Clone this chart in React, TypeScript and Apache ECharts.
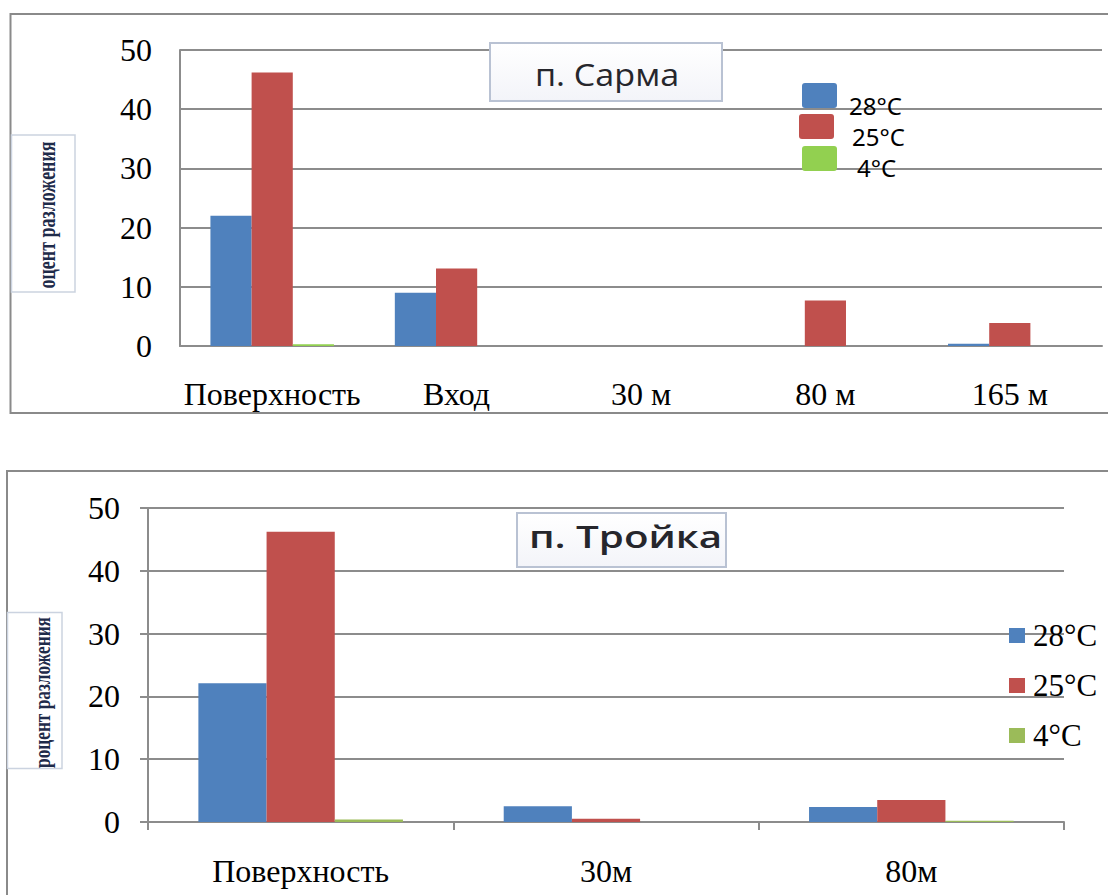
import React, { useEffect, useRef } from "react";
import * as echarts from "echarts";

// Cave "п. Сарма"
const sarmaCategories = ["Поверхность", "Вход", "30 м", "80 м", "165 м"];
const sarma28 = [22.0, 9.0, 0, 0, 0.4];
const sarma25 = [46.2, 13.1, 0, 7.7, 3.9];
const sarma4 = [0.3, 0, 0, 0, 0];

// Cave "п. Тройка"
const troikaCategories = ["Поверхность", "30м", "80м"];
const troika28 = [22.1, 2.5, 2.4];
const troika25 = [46.2, 0.5, 3.5];
const troika4 = [0.4, 0, 0.2];

const seriesNames = ["28°C", "25°C", "4°C"];
const yTicks = { min: 0, max: 50, interval: 10 };

const BLUE = "#4f81bd";
const RED = "#c0504d";
const GREEN_TOP = "#92d050";
const GREEN_BOTTOM = "#9bbb59";
const GRID_GRAY = "#8c8c8c";
const SERIF = '"Liberation Serif", "Times New Roman", serif';
const SANS = '"Noto Sans", "Open Sans", sans-serif';

// Swatch + text layout of the Sarma panel's key (staggered like the original slide)
const sarmaKeyColors = [BLUE, RED, GREEN_TOP];
const sarmaKeyBoxes = [
  { x: 802, y: 83, tx: 849, ty: 105 },
  { x: 799, y: 114, tx: 852, ty: 136 },
  { x: 802, y: 146, tx: 857, ty: 167 },
];

export default function App() {
  const ref = useRef<HTMLDivElement>(null);

  useEffect(() => {
    if (!ref.current) return;
    const chart = echarts.init(ref.current, null, { renderer: "svg" });

    const axisLabelStyle = { color: "#000", fontFamily: SERIF, fontSize: 32 };

    const bar = (name: string, data: number[], idx: number, color: string) => ({
      type: "bar",
      name,
      data,
      xAxisIndex: idx,
      yAxisIndex: idx,
      barGap: "0%",
      barCategoryGap: "33%",
      itemStyle: { color },
    });

    const sarmaKey = sarmaKeyBoxes.flatMap((b, i) => [
      {
        type: "rect",
        z: 60,
        shape: { x: b.x, y: b.y, width: 35, height: 25, r: 3 },
        style: { fill: sarmaKeyColors[i] },
      },
      {
        type: "text",
        z: 61,
        x: b.tx,
        y: b.ty,
        style: {
          text: seriesNames[i],
          font: `24px ${SANS}`,
          lineHeight: 24,
          fill: "#000",
          align: "left",
          verticalAlign: "middle",
        },
      },
    ]);

    const option = {
      animation: false,
      backgroundColor: "#fff",
      grid: [
        { left: 180, top: 50, width: 922, height: 296 },
        { left: 148, top: 508, width: 916, height: 314 },
      ],
      xAxis: [
        {
          type: "category",
          gridIndex: 0,
          data: sarmaCategories,
          axisLine: { show: true, lineStyle: { color: GRID_GRAY, width: 2 } },
          axisTick: { show: false },
          axisLabel: { ...axisLabelStyle, margin: 32, interval: 0 },
        },
        {
          type: "category",
          gridIndex: 1,
          data: troikaCategories,
          axisLine: { show: true, lineStyle: { color: GRID_GRAY, width: 2 } },
          axisTick: { show: true, length: 8, lineStyle: { color: GRID_GRAY, width: 2 } },
          axisLabel: { ...axisLabelStyle, margin: 33, interval: 0 },
        },
      ],
      yAxis: [
        {
          type: "value",
          gridIndex: 0,
          ...yTicks,
          axisLine: { show: true, lineStyle: { color: GRID_GRAY, width: 2 } },
          axisTick: { show: false },
          splitLine: { lineStyle: { color: GRID_GRAY, width: 2 } },
          axisLabel: { ...axisLabelStyle, margin: 28 },
        },
        {
          type: "value",
          gridIndex: 1,
          ...yTicks,
          axisLine: { show: true, lineStyle: { color: GRID_GRAY, width: 2 } },
          axisTick: { show: true, length: 8, lineStyle: { color: GRID_GRAY, width: 2 } },
          splitLine: { lineStyle: { color: GRID_GRAY, width: 2 } },
          axisLabel: { ...axisLabelStyle, margin: 28 },
        },
      ],
      legend: [
        {
          orient: "vertical",
          left: 1009,
          top: 620,
          padding: 0,
          itemWidth: 16,
          itemHeight: 15,
          itemGap: 19,
          icon: "rect",
          selectedMode: false,
          textStyle: {
            fontFamily: SERIF,
            fontSize: 31,
            lineHeight: 31,
            color: "#000",
            padding: [0, 0, 0, 3],
          },
          data: [
            { name: seriesNames[0], itemStyle: { color: BLUE } },
            { name: seriesNames[1], itemStyle: { color: RED } },
            { name: seriesNames[2], itemStyle: { color: GREEN_BOTTOM } },
          ],
        },
      ],
      graphic: [
        // outer frames of both panels
        {
          type: "rect",
          z: 0,
          silent: true,
          shape: { x: 10.5, y: 14, width: 1200, height: 399 },
          style: { fill: "none", stroke: "#8a8a8a", lineWidth: 2 },
        },
        {
          type: "rect",
          z: 0,
          silent: true,
          shape: { x: 7, y: 471, width: 1200, height: 500 },
          style: { fill: "none", stroke: "#8a8a8a", lineWidth: 2 },
        },
        // panel titles
        {
          type: "rect",
          z: 50,
          shape: { x: 490, y: 43, width: 232, height: 58 },
          style: {
            fill: new echarts.graphic.LinearGradient(0, 0, 0, 1, [
              { offset: 0, color: "#ffffff" },
              { offset: 1, color: "#f3f4f9" },
            ]),
            stroke: "#b9c2d3",
            lineWidth: 2,
          },
        },
        {
          type: "text",
          z: 51,
          x: 607,
          y: 74,
          scaleX: 1.1,
          style: {
            text: "п. Сарма",
            font: '500 31px "Open Sans", "Noto Sans", sans-serif',
            fill: "#26262c",
            align: "center",
            verticalAlign: "middle",
          },
        },
        {
          type: "rect",
          z: 50,
          shape: { x: 517, y: 513, width: 209, height: 54 },
          style: {
            fill: new echarts.graphic.LinearGradient(0, 0, 0, 1, [
              { offset: 0, color: "#ffffff" },
              { offset: 1, color: "#f3f4f9" },
            ]),
            stroke: "#b9c2d3",
            lineWidth: 2,
          },
        },
        {
          type: "text",
          z: 51,
          x: 625.5,
          y: 536,
          scaleX: 1.3,
          style: {
            text: "п. Тройка",
            font: '600 31px "Open Sans", "Noto Sans", sans-serif',
            fill: "#26262c",
            align: "center",
            verticalAlign: "middle",
          },
        },
        // y-axis titles
        {
          type: "rect",
          z: 50,
          shape: { x: 11.5, y: 135, width: 63.5, height: 157 },
          style: { fill: "#fff", stroke: "#cbd3e0", lineWidth: 1.5 },
        },
        {
          type: "text",
          z: 51,
          x: 47,
          y: 215,
          rotation: Math.PI / 2,
          scaleX: 0.72,
          style: {
            text: "оцент разложения",
            font: `bold 25px ${SERIF}`,
            fill: "#1f2b4a",
            align: "center",
            verticalAlign: "middle",
          },
        },
        {
          type: "rect",
          z: 50,
          shape: { x: 7.5, y: 612.5, width: 54.5, height: 156 },
          style: { fill: "#fff", stroke: "#cbd3e0", lineWidth: 1.5 },
        },
        {
          type: "text",
          z: 51,
          x: 42,
          y: 692.5,
          rotation: Math.PI / 2,
          scaleX: 0.72,
          style: {
            text: "роцент разложения",
            font: `bold 24px ${SERIF}`,
            fill: "#1f2b4a",
            align: "center",
            verticalAlign: "middle",
          },
        },
        ...sarmaKey,
      ],
      series: [
        bar(seriesNames[0], sarma28, 0, BLUE),
        bar(seriesNames[1], sarma25, 0, RED),
        bar(seriesNames[2], sarma4, 0, GREEN_TOP),
        bar(seriesNames[0], troika28, 1, BLUE),
        bar(seriesNames[1], troika25, 1, RED),
        bar(seriesNames[2], troika4, 1, GREEN_BOTTOM),
      ],
    };

    chart.setOption(option as any);
    return () => chart.dispose();
  }, []);

  return (
    <div
      ref={ref}
      style={{ position: "absolute", left: 0, top: 0, width: 1108, height: 895 }}
    />
  );
}
